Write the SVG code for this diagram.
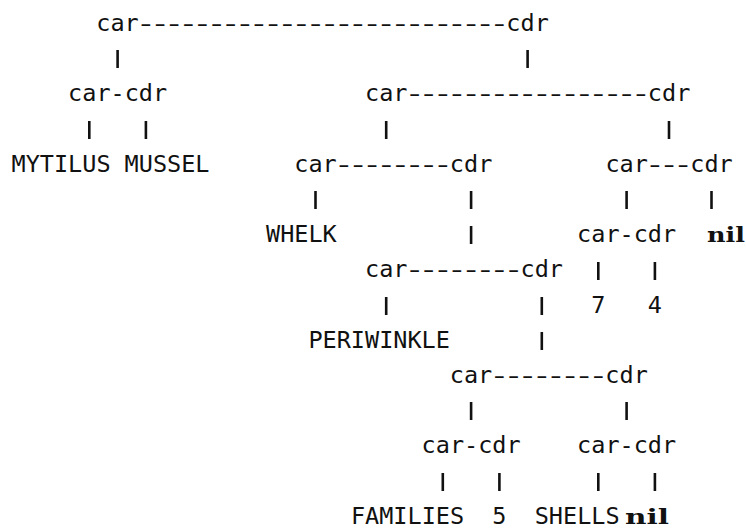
<svg xmlns="http://www.w3.org/2000/svg" width="746" height="529" viewBox="0 0 746 529">
  <style>
    .t { font-family: "DejaVu Sans Mono", "Liberation Mono", monospace; font-size: 23.5px; fill: #111; }
    /* last letter of "car" gives back 3px so the widened hyphens stay centred in their cells */
    .k { letter-spacing: -3px; }
    /* hyphen runs: glyphs widened to fill ~70% of each 14.14px cell */
    .d { letter-spacing: -4.26px; }
    .nil { font-family: "DejaVu Serif", "Liberation Serif", serif; font-weight: bold; font-size: 20px; fill: #111; }
    .bar { stroke: #111; stroke-width: 2.6; }
  </style>
  <rect width="746" height="529" fill="#fff"/>

  <!-- vertical links between cons cells and their parts -->
  <g id="connectors">
    <line class="bar" x1="117.6" y1="50" x2="117.6" y2="68"/>
    <line class="bar" x1="527.6" y1="50" x2="527.6" y2="68"/>
    <line class="bar" x1="89.3" y1="121" x2="89.3" y2="139"/>
    <line class="bar" x1="145.9" y1="121" x2="145.9" y2="139"/>
    <line class="bar" x1="386.2" y1="121" x2="386.2" y2="139"/>
    <line class="bar" x1="669.0" y1="121" x2="669.0" y2="139"/>
    <line class="bar" x1="315.5" y1="191" x2="315.5" y2="209"/>
    <line class="bar" x1="471.1" y1="191" x2="471.1" y2="209"/>
    <line class="bar" x1="626.6" y1="191" x2="626.6" y2="209"/>
    <line class="bar" x1="711.5" y1="191" x2="711.5" y2="209"/>
    <line class="bar" x1="471.1" y1="226" x2="471.1" y2="244"/>
    <line class="bar" x1="598.3" y1="262" x2="598.3" y2="280"/>
    <line class="bar" x1="654.9" y1="262" x2="654.9" y2="280"/>
    <line class="bar" x1="386.2" y1="297" x2="386.2" y2="315"/>
    <line class="bar" x1="541.8" y1="297" x2="541.8" y2="315"/>
    <line class="bar" x1="541.8" y1="332" x2="541.8" y2="350"/>
    <line class="bar" x1="471.1" y1="402" x2="471.1" y2="420"/>
    <line class="bar" x1="626.6" y1="402" x2="626.6" y2="420"/>
    <line class="bar" x1="442.8" y1="473" x2="442.8" y2="491"/>
    <line class="bar" x1="499.4" y1="473" x2="499.4" y2="491"/>
    <line class="bar" x1="598.3" y1="473" x2="598.3" y2="491"/>
    <line class="bar" x1="654.9" y1="473" x2="654.9" y2="491"/>
  </g>

  <!-- cons cells -->
  <g id="cell-root"><text class="t" x="96.3" y="31">ca<tspan class="k">r</tspan><tspan class="d" textLength="367.6" lengthAdjust="spacingAndGlyphs">--------------------------</tspan><tspan dx="3">cdr</tspan></text></g>
  <g id="cell-mytilus"><text class="t" x="68.1" y="101.4">car-cdr</text></g>
  <g id="cell-rest1"><text class="t" x="365.0" y="101.4">ca<tspan class="k">r</tspan><tspan class="d" textLength="240.4" lengthAdjust="spacingAndGlyphs">-----------------</tspan><tspan dx="3">cdr</tspan></text></g>
  <g id="cell-whelk"><text class="t" x="294.3" y="171.7">ca<tspan class="k">r</tspan><tspan class="d" textLength="113.1" lengthAdjust="spacingAndGlyphs">--------</tspan><tspan dx="3">cdr</tspan></text></g>
  <g id="cell-tail"><text class="t" x="605.4" y="171.7">ca<tspan class="k">r</tspan><tspan class="d" textLength="42.4" lengthAdjust="spacingAndGlyphs">---</tspan><tspan dx="3">cdr</tspan></text></g>
  <g id="cell-numbers"><text class="t" x="577.1" y="242.1">car-cdr</text></g>
  <g id="cell-periwinkle"><text class="t" x="365.0" y="277.3">ca<tspan class="k">r</tspan><tspan class="d" textLength="113.1" lengthAdjust="spacingAndGlyphs">--------</tspan><tspan dx="3">cdr</tspan></text></g>
  <g id="cell-rest2"><text class="t" x="449.8" y="382.8">ca<tspan class="k">r</tspan><tspan class="d" textLength="113.1" lengthAdjust="spacingAndGlyphs">--------</tspan><tspan dx="3">cdr</tspan></text></g>
  <g id="cell-families"><text class="t" x="421.6" y="453.2">car-cdr</text></g>
  <g id="cell-shells"><text class="t" x="577.1" y="453.2">car-cdr</text></g>

  <!-- atoms -->
  <g id="atom-mytilus"><text class="t" x="11.5" y="171.7">MYTILUS</text></g>
  <g id="atom-mussel"><text class="t" x="124.6" y="171.7">MUSSEL</text></g>
  <g id="atom-whelk"><text class="t" x="266.0" y="242.1">WHELK</text></g>
  <g id="atom-nil1"><text class="nil" x="707" y="242.1" textLength="38" lengthAdjust="spacingAndGlyphs">nil</text></g>
  <g id="atom-7"><text class="t" x="591.2" y="312.5">7</text></g>
  <g id="atom-4"><text class="t" x="647.8" y="312.5">4</text></g>
  <g id="atom-periwinkle"><text class="t" x="308.4" y="347.7">PERIWINKLE</text></g>
  <g id="atom-families"><text class="t" x="350.9" y="523.5">FAMILIES</text></g>
  <g id="atom-5"><text class="t" x="492.3" y="523.5">5</text></g>
  <g id="atom-shells"><text class="t" x="534.7" y="523.5">SHELLS</text></g>
  <g id="atom-nil2"><text class="nil" x="625" y="523.5" textLength="44" lengthAdjust="spacingAndGlyphs">nil</text></g>
</svg>
